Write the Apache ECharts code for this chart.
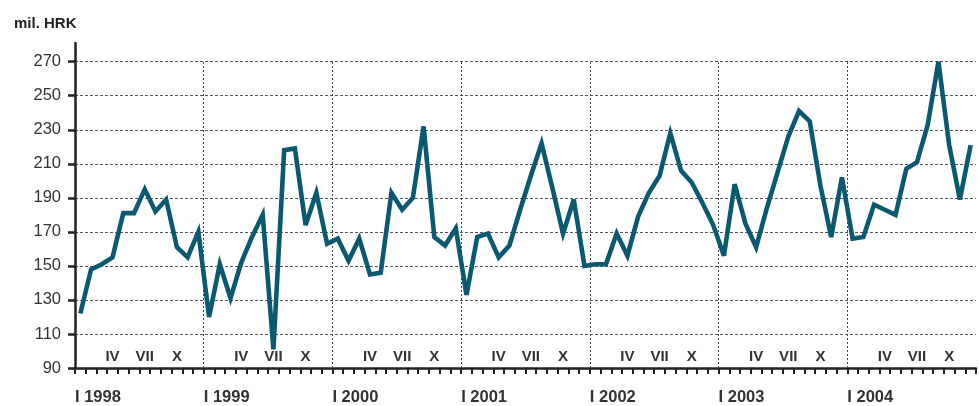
<!DOCTYPE html>
<html>
<head>
<meta charset="utf-8">
<script src="https://cdn.jsdelivr.net/npm/echarts@6/dist/echarts.min.js"></script>
<style>
html,body{margin:0;padding:0;background:#fff;}
#chart{width:979px;height:406px;}
</style>
</head>
<body>
<div id="chart"></div>
<script>
// ---- data ----
var years = ['1998', '1999', '2000', '2001', '2002', '2003', '2004'];
var months = ['I', 'II', 'III', 'IV', 'V', 'VI', 'VII', 'VIII', 'IX', 'X', 'XI', 'XII'];
var shownMonths = ['IV', 'VII', 'X'];
var v1998 = [122, 148, 151, 155, 181, 181, 195, 182, 189, 161, 155, 170];
var v1999 = [120, 151, 131, 152, 167, 180, 101, 218, 219, 174, 193, 163];
var v2000 = [166, 153, 166, 145, 146, 193, 183, 190, 232, 167, 162, 172];
var v2001 = [133, 167, 169, 155, 162, 183, 203, 222, 196, 169, 189, 150];
var v2002 = [151, 151, 169, 156, 179, 193, 203, 228, 206, 199, 187, 174];
var v2003 = [156, 198, 175, 161, 184, 205, 226, 241, 235, 197, 167, 202];
var v2004 = [166, 167, 186, 183, 180, 207, 211, 233, 270, 221, 189, 221];
var yTicks = [90, 110, 130, 150, 170, 190, 210, 230, 250, 270];
var unitLabel = 'mil. HRK';

// ---- build ----
var categories = [];
years.forEach(function (y) { months.forEach(function (m) { categories.push(m + ' ' + y); }); });
var values = [].concat(v1998, v1999, v2000, v2001, v2002, v2003, v2004);
var nMonths = categories.length;
var yearBounds = [];
for (var b = 12; b < nMonths; b += 12) yearBounds.push(b);

var axisColor = '#222';
var gridColor = '#555';

var chart = echarts.init(document.getElementById('chart'), null, {renderer: 'canvas'});
chart.setOption({
  animation: false,
  backgroundColor: '#fff',
  title: {
    text: unitLabel,
    left: 9, top: 11,
    textStyle: {fontFamily: 'Liberation Sans', fontWeight: 'bold', fontSize: 15, color: '#222'}
  },
  grid: {left: 75, right: -4, top: 43, bottom: 38, containLabel: false},
  xAxis: [
    {
      type: 'category',
      data: categories,
      boundaryGap: true,
      axisLine: {show: true, lineStyle: {color: axisColor, width: 2.5}},
      axisTick: {show: true, inside: false, length: 6, interval: 0, lineStyle: {color: axisColor, width: 2}},
      axisLabel: {
        show: true, inside: true, margin: 4,
        interval: function (idx) { return shownMonths.indexOf(months[idx % 12]) >= 0; },
        formatter: function (val) { return val.split(' ')[0]; },
        fontFamily: 'Liberation Sans', fontWeight: 'bold', fontSize: 15, color: '#333'
      },
      splitLine: {show: false}
    },
    {
      type: 'value',
      min: 0, max: nMonths, interval: 12,
      position: 'bottom',
      axisLine: {show: false},
      axisTick: {show: false},
      splitLine: {show: false},
      axisLabel: {
        show: true, margin: 21, align: 'left',
        formatter: function (v) { return v < nMonths ? 'I ' + years[v / 12] : ''; },
        fontFamily: 'Liberation Sans', fontWeight: 'bold', fontSize: 16.5, color: '#333'
      }
    }
  ],
  yAxis: {
    type: 'value',
    min: 90, max: 281,
    axisLine: {show: true, lineStyle: {color: axisColor, width: 2.5}},
    axisTick: {show: true, length: 7, customValues: yTicks, lineStyle: {color: axisColor, width: 2.5}},
    axisLabel: {
      customValues: yTicks, margin: 14,
      fontFamily: 'Liberation Sans', fontSize: 16.5, color: '#333'
    },
    splitLine: {show: true, lineStyle: {color: gridColor, width: 1, type: [3, 2]}}
  },
  series: [
    {
      type: 'line',
      xAxisIndex: 0, yAxisIndex: 0,
      data: values,
      symbol: 'none',
      lineStyle: {color: '#0a5970', width: 4.6, join: 'miter', miterLimit: 4},
      z: 5
    },
    {
      type: 'line',
      xAxisIndex: 1, yAxisIndex: 0,
      data: [],
      symbol: 'none',
      silent: true,
      markLine: {
        silent: true,
        symbol: ['none', 'none'],
        label: {show: false},
        lineStyle: {color: '#444', width: 1, type: [2, 2]},
        data: yearBounds.map(function (bd) {
          return [{coord: [bd, yTicks[0]]}, {coord: [bd, yTicks[yTicks.length - 1]]}];
        })
      },
      z: 1
    }
  ]
});
</script>
</body>
</html>
